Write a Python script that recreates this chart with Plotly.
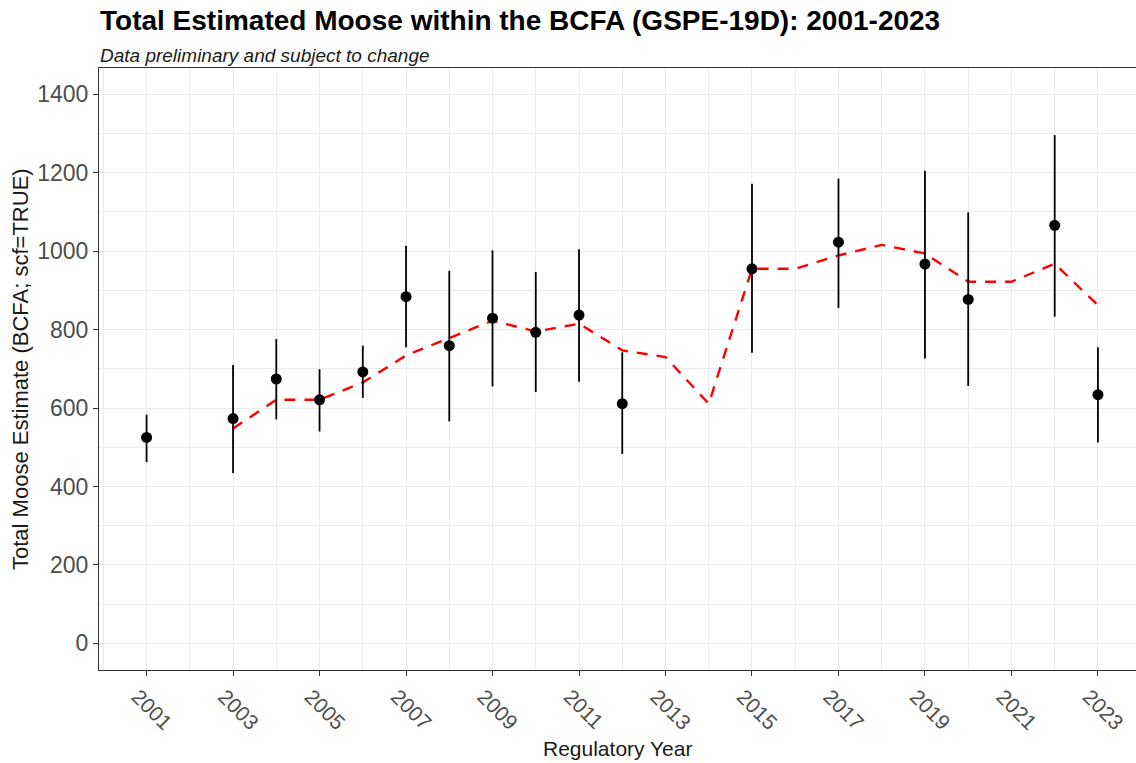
import plotly.graph_objects as go

# Survey estimates
years_obs = [2001, 2003, 2004, 2005, 2006, 2007, 2008, 2009, 2010, 2011, 2012,
             2015, 2017, 2019, 2020, 2022, 2023]
estimate = [525, 573, 674, 621, 692, 884, 759, 829, 793, 837, 611,
            955, 1023, 967, 877, 1066, 634]
lower_ci = [462, 434, 571, 540, 626, 755, 566, 655, 641, 667, 483,
            741, 855, 726, 656, 833, 512]
upper_ci = [583, 710, 776, 699, 759, 1014, 950, 1002, 947, 1005, 742,
            1172, 1185, 1205, 1099, 1296, 755]

# Trend line (red dashed)
trend_years = list(range(2003, 2024))
trend_vals = [548, 621, 621, 665, 734, 778, 823, 795, 815, 747, 730, 611,
              955, 955, 989, 1016, 994, 922, 922, 968, 862]

x_ticks = list(range(2001, 2024, 2))
y_ticks = list(range(0, 1401, 200))

FONT = "Liberation Sans, Arial, sans-serif"

fig = go.Figure()

fig.add_trace(go.Scatter(
    x=trend_years, y=trend_vals, mode="lines",
    line=dict(color="#FF0000", width=2.4, dash="11px,9px"),
    hoverinfo="skip", showlegend=False,
))

fig.add_trace(go.Scatter(
    x=years_obs, y=estimate, mode="markers",
    marker=dict(color="black", size=11),
    error_y=dict(type="data", symmetric=False,
                 array=[u - e for u, e in zip(upper_ci, estimate)],
                 arrayminus=[e - l for e, l in zip(estimate, lower_ci)],
                 color="black", thickness=1.8, width=0),
    showlegend=False,
))

fig.update_layout(
    width=1136, height=763,
    margin=dict(l=99, r=0, t=68, b=93),
    paper_bgcolor="white", plot_bgcolor="white",
    font=dict(family=FONT, color="#4D4D4D"),
    showlegend=False,
    xaxis=dict(
        range=[1999.9, 2023.88], tickmode="array", tickvals=x_ticks,
        ticktext=[str(v) for v in x_ticks], tickangle=45,
        ticklabeloverflow="allow", automargin=False, ticklabelshift=-9,
        tickfont=dict(size=21, color="#4D4D4D", family=FONT),
        showgrid=True, gridcolor="#EBEBEB", gridwidth=1.1,
        minor=dict(dtick=1, tick0=2000, showgrid=True, gridcolor="#EBEBEB", gridwidth=0.6, ticks=""),
        ticks="outside", ticklen=5, tickcolor="#333333", tickwidth=1,
        showline=True, linecolor="#333333", linewidth=1.2, mirror=True,
        zeroline=False,
    ),
    yaxis=dict(
        range=[-68, 1467], tickmode="array", tickvals=y_ticks,
        ticktext=[str(v) for v in y_ticks], automargin=False,
        tickfont=dict(size=23, color="#4D4D4D", family=FONT),
        showgrid=True, gridcolor="#EBEBEB", gridwidth=1.1,
        minor=dict(dtick=100, tick0=0, showgrid=True, gridcolor="#EBEBEB", gridwidth=0.6, ticks=""),
        ticks="outside", ticklen=5, tickcolor="#333333", tickwidth=1,
        showline=True, linecolor="#333333", linewidth=1.2, mirror=False,
        zeroline=False,
    ),
    annotations=[
        dict(text="<b>Total Estimated Moose within the BCFA (GSPE-19D): 2001-2023</b>",
             xref="paper", yref="paper", x=-0.001, y=1.0797, xanchor="left", yanchor="middle",
             showarrow=False, font=dict(size=28, color="black", family=FONT)),
        dict(text="<i>Data preliminary and subject to change</i>",
             xref="paper", yref="paper", x=-0.001, y=1.02, xanchor="left", yanchor="middle",
             showarrow=False, font=dict(size=19, color="#1A1A1A", family=FONT)),
        dict(text="Regulatory Year",
             xref="paper", yref="paper", x=0.5, y=-0.1296, xanchor="center", yanchor="middle",
             showarrow=False, font=dict(size=21, color="#1A1A1A", family=FONT)),
        dict(text="Total Moose Estimate (BCFA; scf=TRUE)",
             xref="paper", yref="paper", x=-0.0762, y=0.5, xanchor="center", yanchor="middle",
             textangle=-90, showarrow=False, font=dict(size=22, color="#1A1A1A", family=FONT)),
    ],
)

fig.write_html("out.html", config={"displayModeBar": False})

# remove default body margin so the figure sits at the page's top-left corner
with open("out.html", "r", encoding="utf-8") as f:
    html = f.read()
html = html.replace("<body>", '<body style="margin:0;padding:0;overflow:hidden">', 1)
with open("out.html", "w", encoding="utf-8") as f:
    f.write(html)
